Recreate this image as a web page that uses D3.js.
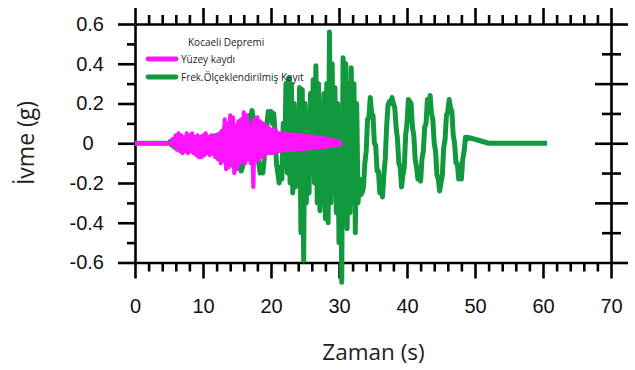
<!DOCTYPE html>
<html><head><meta charset="utf-8">
<script src="https://cdn.jsdelivr.net/npm/d3@7"></script>
<style>body{margin:0;background:#fff}svg{display:block}</style>
</head><body>
<svg id="c" width="635" height="370"></svg>
<script>
// ---------- data ----------
const chartTitle = "Kocaeli Depremi";
const seriesNames = ["Yüzey kaydı", "Frek.Ölçeklendirilmiş Kayıt"];
const xTicks = [0, 10, 20, 30, 40, 50, 60, 70];
const xTickLabels = ["0", "10", "20", "30", "40", "50", "60", "70"];
const yTicks = [-0.6, -0.4, -0.2, 0, 0.2, 0.4, 0.6];
const yTickLabels = ["-0.6", "-0.4", "-0.2", "0", "0.2", "0.4", "0.6"];
const sampleStep = 0.2; // s

// Yüzey kaydı: flat 0 from t=0, samples from t=5.4
const surfaceStart = 5.4;
const surfaceValues = [
  0, 0.02, -0.02, 0.04, -0.03, 0.05, -0.04, 0.04, -0.05, 0.03,
  -0.04, 0.05, -0.05, 0.04, -0.04, 0.05, -0.05, 0.03, -0.06, 0.04,
  -0.07, 0.03, -0.07, 0.04, -0.06, 0.05, -0.05, 0.03, -0.06, 0.04,
  -0.05, 0.04, -0.07, 0.03, -0.08, 0.05, -0.10, 0.06, -0.09, 0.12,
  -0.13, 0.10, -0.12, 0.14, -0.10, 0.13, -0.15, 0.09, -0.13, 0.11,
  -0.10, 0.12, -0.09, 0.155, -0.10, 0.14, -0.08, 0.10, -0.10, 0.10,
  -0.22, 0.12, -0.08, 0.13, -0.085, 0.11, -0.07, 0.10, -0.06, 0.09,
  -0.05, 0.08, -0.05, 0.07, -0.05, 0.07, -0.04, 0.06, -0.04, 0.05,
  -0.04, 0.05, -0.035, 0.05, -0.035, 0.045, -0.035, 0.045, -0.03, 0.045,
  -0.035, 0.04, -0.03, 0.04, -0.03, 0.04, -0.03, 0.04, -0.03, 0.035,
  -0.025, 0.035, -0.025, 0.035, -0.025, 0.03, -0.02, 0.03, -0.02, 0.03,
  -0.02, 0.025, -0.02, 0.025, -0.015, 0.02, -0.015, 0.02, -0.012, 0.015,
  -0.01, 0.012, -0.008, 0.008, -0.005, 0
];

// Frek.Ölçeklendirilmiş Kayıt: flat 0 from t=0, samples from t=5.0, then tail
const scaledStart = 5.0;
const scaledValues = [
  0, 0.01, -0.01, 0.02, -0.02, 0.02, -0.03, 0.03, -0.02, 0.03,
  -0.03, 0.02, -0.03, 0.03, -0.02, 0.03, -0.03, 0.02, -0.04, 0.03,
  -0.04, 0.02, -0.05, 0.03, -0.04, 0.03, -0.04, 0.02, -0.04, 0.03,
  -0.03, 0.03, -0.05, 0.03, -0.05, 0.04, -0.06, 0.04, -0.07, 0.06,
  -0.08, 0.08, -0.09, 0.09, -0.10, 0.10, -0.11, 0.08, -0.12, 0.07,
  -0.06, -0.12, -0.10, -0.14, -0.12, -0.08, 0.0, 0.06, 0.10, 0.14,
  0.12, 0.165, 0.13, 0.08, 0.0, -0.06, -0.10, -0.15, -0.12, -0.15,
  -0.08, 0.02, 0.10, 0.16, 0.12, 0.16, 0.10, 0.15, 0.05, -0.10,
  -0.15, -0.20, -0.12, -0.18, 0.10, -0.10, 0.30, -0.15, 0.33, -0.20,
  0.30, -0.25, 0.20, -0.22, 0.10, -0.20, 0.28, -0.45, 0.27, -0.59,
  0.20, -0.30, 0.15, -0.25, 0.25, -0.15, 0.32, -0.20, 0.39, -0.30,
  0.30, -0.34, 0.20, -0.30, 0.25, -0.38, 0.30, -0.40, 0.56, -0.30,
  0.40, -0.25, 0.28, -0.35, 0.20, -0.50, 0.15, -0.70, 0.43, -0.30,
  0.40, -0.43, 0.30, -0.35, 0.38, -0.30, 0.30, -0.45, 0.20, -0.30,
  -0.18, -0.26, -0.25, -0.22, -0.10, -0.04, 0.12, 0.13, 0.23, 0.15,
  0.14, 0.00, -0.01, -0.14, -0.14, -0.25, -0.20, -0.27, -0.16, -0.08,
  0.08, 0.19, 0.21, 0.20, 0.23, 0.20, 0.18, 0.08, 0.02, -0.10,
  -0.12, -0.22, -0.16, -0.12, 0.04, 0.10, 0.22, 0.21, 0.20, 0.08,
  0.04, -0.08, -0.12, -0.18, -0.18, -0.19, -0.08, -0.04, 0.08, 0.10,
  0.22, 0.16, 0.24, 0.15, 0.12, 0.00, -0.04, -0.16, -0.18, -0.24,
  -0.20, -0.16, -0.02, 0.02, 0.14, 0.16, 0.22, 0.18, 0.16, 0.04,
  0.00, -0.10, -0.10, -0.18, -0.16, -0.18, -0.08, -0.04, 0.03, 0.02,
  0.03
];
const scaledTailTimes = [50.5, 52.0, 60.6];
const scaledTailValues = [0.015, 0.0, 0.0];

// ---------- build point lists ----------
function buildSeries(start, values, tailT, tailV) {
  const pts = [{t: 0, v: 0}];
  values.forEach((v, i) => pts.push({t: start + i * sampleStep, v}));
  (tailT || []).forEach((t, i) => pts.push({t, v: tailV[i]}));
  return pts;
}
const surface = buildSeries(surfaceStart, surfaceValues);
const scaled = buildSeries(scaledStart, scaledValues, scaledTailTimes, scaledTailValues);

// ---------- chart ----------
const svg = d3.select("#c");
const x = d3.scaleLinear().domain([0, 70]).range([135, 611]);
const y = d3.scaleLinear().domain([-0.6, 0.6]).range([262.5, 24]);
const yRight = d3.scaleLinear().domain([-4, 4]).range([262.5, 24]);
const xMinor = d3.range(0, 71, 2).filter(d => d % 10 !== 0);
const yMinor = d3.range(-5, 6, 2).map(d => d / 10);

const axisFont = "'Liberation Sans', Arial, sans-serif";
const textFont = "'Open Sans', 'Noto Sans', sans-serif";
const SW = 2.6;

function styleAxis(g) {
  g.selectAll("path, line").attr("stroke", "#000").attr("stroke-width", SW);
  g.selectAll("text").attr("font-family", axisFont).attr("font-size", 20).attr("fill", "#111");
}

// bottom
svg.append("g").attr("transform", `translate(0,${y(-0.6)})`)
  .call(d3.axisBottom(x).tickValues(xTicks).tickFormat((d, i) => xTickLabels[i])
    .tickSize(16).tickSizeOuter(0).tickPadding(20.5)).call(styleAxis);
svg.append("g").attr("transform", `translate(0,${y(-0.6)})`)
  .call(d3.axisBottom(x).tickValues(xMinor).tickFormat("").tickSize(9).tickSizeOuter(0))
  .call(styleAxis).select(".domain").remove();
// top
svg.append("g").attr("transform", `translate(0,${y(0.6)})`)
  .call(d3.axisTop(x).tickValues(xTicks).tickFormat("").tickSize(16).tickSizeOuter(0)).call(styleAxis);
svg.append("g").attr("transform", `translate(0,${y(0.6)})`)
  .call(d3.axisTop(x).tickValues(xMinor).tickFormat("").tickSize(9).tickSizeOuter(0))
  .call(styleAxis).select(".domain").remove();
// left
const gl = svg.append("g").attr("transform", `translate(${x(0)},0)`)
  .call(d3.axisLeft(y).tickValues(yTicks).tickFormat((d, i) => yTickLabels[i])
    .tickSize(17).tickSizeOuter(0).tickPadding(14)).call(styleAxis);
gl.selectAll(".tick").filter(d => d === 0).select("text")
  .attr("text-anchor", "middle").attr("x", -47);
svg.append("g").attr("transform", `translate(${x(0)},0)`)
  .call(d3.axisLeft(y).tickValues(yMinor).tickFormat("").tickSize(8).tickSizeOuter(0))
  .call(styleAxis).select(".domain").remove();
// right (crossing ticks, unlabeled)
const rMajor = [-2, 0, 2], rMinor = [-3, -1, 1, 3];
[[rMajor, 17], [rMinor, 10]].forEach(([vals, len]) => {
  svg.append("g").attr("transform", `translate(${x(70)},0)`)
    .call(d3.axisRight(yRight).tickValues(vals).tickFormat("").tickSize(len).tickSizeOuter(0))
    .call(styleAxis).select(".domain").remove();
  svg.append("g").attr("transform", `translate(${x(70)},0)`)
    .call(d3.axisLeft(yRight).tickValues(vals).tickFormat("").tickSize(len - 1).tickSizeOuter(0))
    .call(styleAxis).select(".domain").remove();
});
svg.append("g").attr("transform", `translate(${x(70)},0)`)
  .call(d3.axisRight(yRight).tickValues([]).tickSizeOuter(0)).call(styleAxis);
svg.append("g").attr("transform", `translate(${x(70)},0)`)
  .call(d3.axisRight(yRight).tickValues([-4, 4]).tickFormat("").tickSize(17).tickSizeOuter(0))
  .call(styleAxis).select(".domain").remove();

// series
const line = d3.line().x(d => x(d.t)).y(d => y(d.v));
svg.append("path").datum(scaled).attr("d", line)
  .attr("fill", "none").attr("stroke", "#12993d").attr("stroke-width", 5)
  .attr("stroke-linejoin", "round");
svg.append("path").datum(surface).attr("d", line)
  .attr("fill", "none").attr("stroke", "#ff14ff").attr("stroke-width", 4.2)
  .attr("stroke-linejoin", "round");

// legend
svg.append("text").attr("x", 188).attr("y", 46).text(chartTitle)
  .attr("font-family", textFont).attr("font-size", 10).attr("fill", "#222");
const legColors = ["#ff14ff", "#12993d"];
seriesNames.forEach((n, i) => {
  const ly = 59 + i * 18;
  svg.append("line").attr("x1", 148).attr("x2", 176).attr("y1", ly).attr("y2", ly)
    .attr("stroke", legColors[i]).attr("stroke-width", 4.8).attr("stroke-linecap", "round");
  svg.append("text").attr("x", 181).attr("y", ly + 3.5).text(n)
    .attr("font-family", textFont).attr("font-size", 10).attr("fill", "#222");
});

// axis titles
svg.append("text").attr("x", 373.5).attr("y", 360).attr("text-anchor", "middle")
  .text("Zaman (s)").attr("font-family", textFont).attr("font-size", 22.5).attr("fill", "#222");
svg.append("text").attr("transform", "translate(34,143) rotate(-90)").attr("text-anchor", "middle")
  .text("İvme (g)").attr("font-family", textFont).attr("font-size", 23).attr("fill", "#222");
</script>
</body></html>
